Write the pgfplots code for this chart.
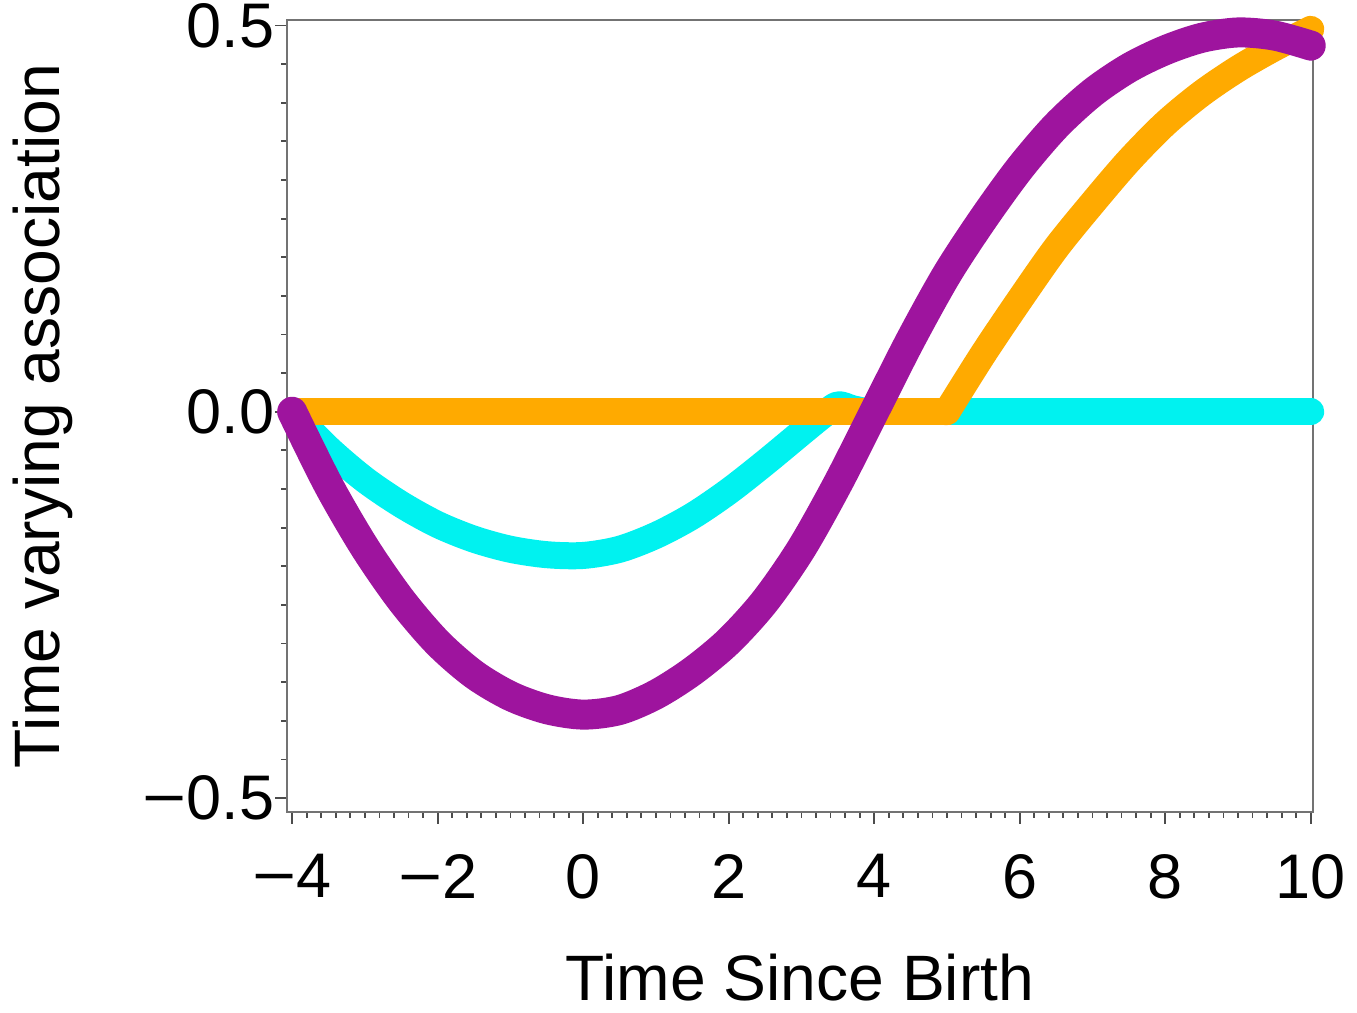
\documentclass[border=0pt]{standalone}
\usepackage{pgfplots}
\pgfplotsset{compat=1.18}
\usepackage{fontspec}
\setmainfont{Liberation Sans}
\usetikzlibrary{calc}

\definecolor{cpurple}{RGB}{158,20,158}
\definecolor{ccyan}{RGB}{0,242,240}
\definecolor{corange}{RGB}{255,170,0}
\newcommand\mn{\scalebox{1.2}[1]{−}}

\begin{document}
\begin{tikzpicture}
\begin{axis}[
    scale only axis,
    width=342pt, height=264pt,
    xmin=-4.07, xmax=10.03,
    ymin=-0.518, ymax=0.507,
    xtick={-4,-2,0,2,4,6,8,10},
    xticklabels={\mn4,\mn2,0,2,4,6,8,10},
    ytick={-0.5,0,0.5},
    yticklabels={\mn0.5,0.0,0.5},
    minor x tick num=9,
    minor y tick num=9,
    tick pos=left,
    tick align=outside,
    major tick length=4pt,
    minor tick length=2pt,
    every tick/.style={black!70, line width=0.6pt},
    axis line style={black!55, line width=0.8pt},
    ticklabel style={font=\fontsize{21}{25}\selectfont},
    xticklabel style={anchor=north, inner sep=0pt, yshift=-10pt},
    yticklabel style={anchor=east, inner sep=0pt},
    xlabel={Time Since Birth},
    ylabel={Time varying association},
    label style={font=\fontsize{21.4}{25}\selectfont, inner sep=0pt},
    xlabel style={at={(axis description cs:0.5,0)}, anchor=north, yshift=-47pt},
    ylabel style={at={(axis description cs:-0.208,0.5)}, anchor=south},
    clip=false,
]
\coordinate (sw) at (rel axis cs:0,0);
\coordinate (ne) at (rel axis cs:1,1);

% cyan
\addplot[ccyan, line width=9pt, line cap=round, line join=round, smooth] coordinates {
(-4,0) (-3.5,-0.048) (-3.0,-0.088) (-2.5,-0.120) (-2.0,-0.146) (-1.5,-0.165)
(-1.0,-0.178) (-0.5,-0.185) (0,-0.186) (0.5,-0.178) (1.0,-0.160) (1.5,-0.135)
(2.0,-0.103) (2.5,-0.066) (3.0,-0.027) (3.3,-0.004) (3.5,0.009) (3.7,0.004) (3.9,0)
};
\addplot[ccyan, line width=9pt, line cap=round] coordinates {(3.9,0) (10,0)};

% orange
\addplot[corange, line width=9pt, line cap=round] coordinates {(-4,0) (5,0)};
\addplot[corange, line width=9pt, line cap=round, line join=round, smooth] coordinates {
(5,0) (5.5,0.075) (6,0.145) (6.5,0.212) (7,0.270) (7.5,0.325) (8,0.373)
(8.5,0.412) (9,0.444) (9.5,0.471) (10,0.495)
};

% purple
\addplot[cpurple, line width=10pt, line cap=round, line join=round, smooth] coordinates {
(-4,0) (-3.5,-0.095) (-3.0,-0.176) (-2.5,-0.244) (-2.0,-0.299) (-1.5,-0.340)
(-1.0,-0.368) (-0.5,-0.385) (0,-0.392) (0.5,-0.386) (1.0,-0.366) (1.5,-0.336)
(2.0,-0.297) (2.5,-0.245) (3.0,-0.177) (3.5,-0.093) (4.0,0.0) (4.5,0.093)
(5.0,0.178) (5.5,0.250) (6.0,0.315) (6.5,0.370) (7.0,0.413) (7.5,0.445)
(8.0,0.468) (8.5,0.484) (9.0,0.491) (9.5,0.487) (10,0.474)
};
\end{axis}
\path ($(sw)+(-95.7pt,-66.7pt)$) rectangle ($(ne)+(14.7pt,6.7pt)$);
\end{tikzpicture}
\end{document}
